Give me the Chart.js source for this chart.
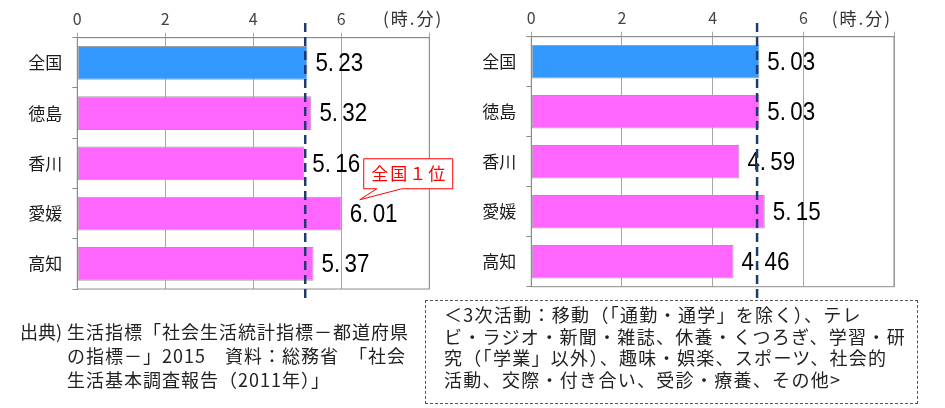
<!DOCTYPE html>
<html lang="ja">
<head>
<meta charset="utf-8">
<script src="https://cdn.jsdelivr.net/npm/chart.js@4.4.1/dist/chart.umd.min.js"></script>
<style>
  body { margin: 0; width: 945px; height: 408px; background: #fff; overflow: hidden; position: relative;
         font-family: "Noto Sans CJK JP", sans-serif; color: #222; }
  #leftChart { position: absolute; left: 0; top: 0; }
  #rightChart { position: absolute; left: 450px; top: 0; }
  .src { position: absolute; top: 319px; font-size: 18px; line-height: 24px; letter-spacing: 1px; white-space: nowrap; }
  .note { position: absolute; left: 425px; top: 300px; width: 493px; height: 104px; box-sizing: border-box;
          border: 1.5px dashed #555; padding: 3px 0 0 18px; font-size: 18px; line-height: 21.5px;
          letter-spacing: 1.3px; white-space: nowrap; }
</style>
</head>
<body>
<canvas id="leftChart" width="470" height="320"></canvas>
<canvas id="rightChart" width="495" height="320"></canvas>

<div class="src" style="left:20px; letter-spacing:0">出典)</div>
<div class="src" style="left:67px">生活指標「社会生活統計指標－都道府県<br>の指標－」2015　資料：総務省　「社会<br>生活基本調査報告（2011年）」</div>

<div class="note">＜3次活動：移動（「通勤・通学」を除く）、テレ<br>ビ・ラジオ・新聞・雑誌、休養・くつろぎ、学習・研<br>究（「学業」以外）、趣味・娯楽、スポーツ、社会的<br>活動、交際・付き合い、受診・療養、その他></div>

<script>
const categories = ['全国', '徳島', '香川', '愛媛', '高知'];
const leftValues = [5.23, 5.32, 5.16, 6.01, 5.37];
const rightValues = [5.03, 5.03, 4.59, 5.15, 4.46];
const xTicks = [0, 2, 4, 6, 8];
const avgLines = [5.18, 4.98];
const barColors = ['#3399ff', '#ff66ff', '#ff66ff', '#ff66ff', '#ff66ff'];
const unitLabel = '(時.分)';
const rankLabel = '全国１位';
const rankIndex = 3;

const jpFont = '"Noto Sans CJK JP", sans-serif';

// plot frame (right + bottom edges are not drawn by the axes)
const framePlugin = {
  id: 'frame',
  afterDatasetsDraw(chart) {
    const a = chart.chartArea, ctx = chart.ctx;
    ctx.save();
    ctx.strokeStyle = '#8c8c8c';
    ctx.lineWidth = 1;
    ctx.strokeRect(a.left, a.top, a.right - a.left, a.bottom - a.top);
    ctx.restore();
  }
};

// "5. 23" style labels after each bar
const valuePlugin = {
  id: 'values',
  afterDatasetsDraw(chart) {
    const ctx = chart.ctx;
    const meta = chart.getDatasetMeta(0);
    const vals = chart.data.datasets[0].data;
    ctx.save();
    ctx.fillStyle = '#000';
    ctx.font = '26px "Liberation Sans", Arial, sans-serif';
    ctx.textBaseline = 'middle';
    meta.data.forEach((bar, i) => {
      const parts = vals[i].toFixed(2).split('.');
      ctx.save();
      ctx.translate(bar.x + 8, bar.y + 1);
      ctx.scale(0.86, 1);
      const head = parts[0] + '.';
      ctx.fillText(head, 0, 0);
      ctx.fillText(parts[1], ctx.measureText(head).width + 5, 0);
      ctx.restore();
    });
    ctx.restore();
  }
};

const avgPlugin = {
  id: 'avg',
  afterDraw(chart, args, opts) {
    const ctx = chart.ctx;
    const x = chart.scales.x.getPixelForValue(opts.value);
    ctx.save();
    ctx.strokeStyle = '#1f3a6e';
    ctx.lineWidth = 2.5;
    ctx.setLineDash([9, 5]);
    ctx.beginPath();
    ctx.moveTo(x, 23);
    ctx.lineTo(x, 303);
    ctx.stroke();
    ctx.restore();
  }
};

const unitPlugin = {
  id: 'unit',
  afterDraw(chart, args, opts) {
    const ctx = chart.ctx;
    ctx.save();
    ctx.fillStyle = '#333';
    ctx.font = '17px ' + jpFont;
    ctx.letterSpacing = '2px';
    ctx.textAlign = 'right';
    ctx.textBaseline = 'middle';
    ctx.fillText(unitLabel, chart.chartArea.right + opts.dx, 19);
    ctx.restore();
  }
};

const rankPlugin = {
  id: 'rank',
  afterDatasetsDraw(chart) {
    const ctx = chart.ctx;
    const bar = chart.getDatasetMeta(0).data[rankIndex];
    const tx = bar.x + 18, ty = bar.y - bar.height / 2 + 3;
    const l = tx + 4, r = tx + 93, t = ty - 41, b = ty - 11;
    ctx.save();
    ctx.beginPath();
    ctx.moveTo(l, t);
    ctx.lineTo(r, t);
    ctx.lineTo(r, b);
    ctx.lineTo(tx + 42, b);
    ctx.lineTo(tx, ty);
    ctx.lineTo(tx + 17, b);
    ctx.lineTo(l, b);
    ctx.closePath();
    ctx.fillStyle = '#fff';
    ctx.fill();
    ctx.strokeStyle = '#ff0000';
    ctx.lineWidth = 1;
    ctx.stroke();
    ctx.fillStyle = '#ff0000';
    ctx.font = '17px ' + jpFont;
    ctx.letterSpacing = '2px';
    ctx.textAlign = 'center';
    ctx.textBaseline = 'middle';
    ctx.fillText(rankLabel, (l + r) / 2 + 1, (t + b) / 2);
    ctx.restore();
  }
};

function makeChart(id, values, lay, extra) {
  return new Chart(document.getElementById(id), {
    type: 'bar',
    data: {
      labels: categories,
      datasets: [{
        data: values,
        backgroundColor: barColors,
        borderColor: '#a0a0a0',
        borderWidth: 1,
        borderSkipped: false,
        barPercentage: 0.67,
        categoryPercentage: 1
      }]
    },
    options: {
      indexAxis: 'y',
      responsive: false,
      animation: false,
      layout: { padding: { top: 0, left: 0, right: lay.padRight, bottom: lay.padBottom } },
      plugins: {
        legend: { display: false },
        tooltip: { enabled: false },
        avg: { value: lay.avg },
        unit: { dx: lay.unitDx }
      },
      scales: {
        x: {
          position: 'top',
          min: 0,
          max: 8,
          afterBuildTicks: s => { s.ticks = xTicks.map(v => ({ value: v })); },
          afterFit: s => { s.height = lay.top; },
          ticks: {
            padding: 4,
            color: '#444',
            font: { size: 16, family: jpFont },
            callback: v => (v === 8 ? '' : v)
          },
          grid: { color: '#a6a6a6', tickColor: '#a6a6a6', tickLength: 5 },
          border: { color: '#8c8c8c' }
        },
        y: {
          afterFit: s => { s.width = lay.left; },
          ticks: { padding: 10, color: '#1a1a1a', font: { size: 17, family: jpFont } },
          grid: { drawOnChartArea: false, offset: true, tickLength: 5, color: '#8c8c8c' },
          border: { color: '#8c8c8c' }
        }
      }
    },
    plugins: [framePlugin, valuePlugin, avgPlugin, unitPlugin].concat(extra)
  });
}

makeChart('leftChart', leftValues,
  { left: 77.3, top: 37.7, padRight: 40.7, padBottom: 31, avg: avgLines[0], unitDx: 14 }, [rankPlugin]);
makeChart('rightChart', rightValues,
  { left: 81.3, top: 36.7, padRight: 51, padBottom: 33.3, avg: avgLines[1], unitDx: -2 }, []);
</script>
</body>
</html>
